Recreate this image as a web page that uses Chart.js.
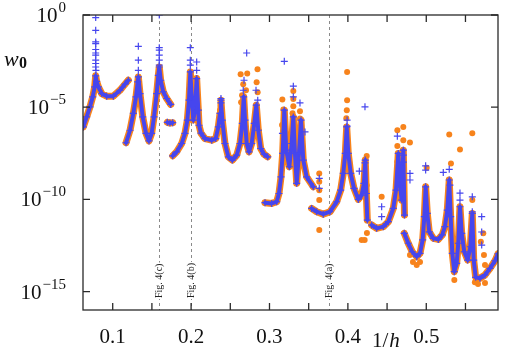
<!DOCTYPE html>
<html lang="en">
<head>
  <meta charset="UTF-8" />
  <title>w0 vs 1/h</title>
  <script src="https://cdn.jsdelivr.net/npm/chart.js@4.4.0/dist/chart.umd.min.js"></script>
  <style>
    body { margin: 0; background: #fff; }
    #wrap { width: 505px; height: 355px; }
  </style>
</head>
<body>
  <div id="wrap"><canvas id="chart" width="505" height="355"></canvas></div>

  <script>
    // each point: [1/h, log10 w0]
    const segA = [[0.0625,-6.07],[0.0668,-5.53],[0.0710,-4.98],[0.0745,-4.44],[0.0770,-3.90],[0.0783,-3.30],[0.0795,-3.60],[0.0817,-3.90],[0.0860,-4.26],[0.0923,-4.40],[0.1008,-4.40],[0.1093,-4.08],[0.1157,-3.75],[0.1199,-3.54]];
    const segB = [[0.1170,-6.93],[0.1221,-6.25],[0.1263,-5.34],[0.1297,-4.44],[0.1319,-3.63],[0.1327,-3.36],[0.1348,-4.26],[0.1383,-5.53],[0.1425,-6.42],[0.1463,-6.83],[0.1497,-6.42],[0.1527,-5.53],[0.1561,-4.26],[0.1582,-3.27],[0.1594,-2.82],[0.1612,-3.54],[0.1645,-4.17],[0.1689,-4.53],[0.1740,-4.85]];
    const segC = [[0.1697,-5.82],[0.1730,-5.86],[0.1765,-5.84]];
    const segD = [[0.1765,-7.64],[0.1816,-7.42],[0.1880,-6.97],[0.1922,-6.42],[0.1952,-5.70],[0.1973,-4.62],[0.1990,-3.09],[0.2008,-4.44],[0.2028,-5.70],[0.2050,-5.16],[0.2071,-3.45],[0.2092,-5.16],[0.2101,-5.98],[0.2126,-6.41],[0.2177,-6.70],[0.2263,-6.79],[0.2314,-6.70],[0.2347,-6.07],[0.2369,-5.34],[0.2381,-4.62],[0.2398,-5.70],[0.2432,-6.97],[0.2475,-7.69],[0.2526,-7.87],[0.2582,-7.60],[0.2624,-6.97],[0.2653,-5.88],[0.2671,-4.44],[0.2688,-5.70],[0.2709,-6.97],[0.2739,-7.42],[0.2773,-6.97],[0.2806,-5.88],[0.2832,-4.89],[0.2857,-6.25],[0.2888,-7.24],[0.2930,-7.55],[0.2977,-7.69]];
    const segE = [[0.2943,-10.18],[0.3028,-10.22],[0.3092,-10.13],[0.3121,-9.68],[0.3147,-8.78],[0.3168,-7.51],[0.3189,-5.16],[0.3214,-7.33],[0.3253,-8.23],[0.3283,-6.97],[0.3304,-5.53],[0.3325,-7.51],[0.3347,-9.13],[0.3376,-7.51],[0.3402,-5.70],[0.3431,-7.87],[0.3474,-8.78],[0.3559,-9.32]];
    const segF = [[0.3538,-10.49],[0.3602,-10.67],[0.3686,-10.80],[0.3772,-10.67],[0.3857,-10.13],[0.3908,-9.50],[0.3941,-8.59],[0.3967,-7.51],[0.3985,-6.07],[0.4005,-7.51],[0.4036,-8.59],[0.4078,-9.40],[0.4133,-10.00],[0.4176,-9.77],[0.4205,-9.13],[0.4222,-7.87],[0.4235,-9.68],[0.4248,-11.12]];
    const segG = [[0.4304,-11.39],[0.4367,-11.57],[0.4452,-11.48],[0.4516,-11.21],[0.4579,-10.49],[0.4614,-9.50],[0.4643,-7.51],[0.4665,-9.23],[0.4686,-10.04],[0.4707,-7.33],[0.4722,-10.85]];
    const segH = [[0.4719,-11.84],[0.4770,-12.38],[0.4821,-12.84],[0.4878,-13.11],[0.4920,-12.93],[0.4954,-12.20],[0.4975,-10.94],[0.4992,-9.32],[0.5013,-10.76],[0.5038,-11.76],[0.5089,-12.11],[0.5153,-12.17],[0.5204,-11.93],[0.5238,-11.48],[0.5268,-10.58],[0.5293,-8.95],[0.5311,-10.94],[0.5332,-12.93],[0.5357,-13.92],[0.5388,-13.47],[0.5408,-12.38],[0.5430,-10.40],[0.5452,-11.84],[0.5485,-12.84],[0.5528,-13.29],[0.5562,-12.57],[0.5587,-10.76],[0.5605,-13.29],[0.5630,-14.23],[0.5685,-14.28],[0.5749,-14.10],[0.5813,-13.74],[0.5877,-13.33],[0.5915,-12.95]];
    const segments = [segA, segB, segC, segD, segE, segF, segG, segH];

    // loose points above the peaks
    const blueExtra = [
      [0.0783,-0.14],[0.0783,-0.83],[0.0783,-1.46],[0.0783,-1.55],[0.0783,-1.87],[0.0783,-2.06],[0.0783,-2.18],[0.0783,-2.45],[0.0783,-2.63],[0.0783,-2.82],[0.0786,-3.00],
      [0.1327,-1.70],[0.1327,-2.45],[0.1327,-3.00],
      [0.1594,0.00],[0.1594,-1.77],[0.1594,-1.91],[0.1594,-2.18],[0.1594,-2.45],[0.1594,-2.72],
      [0.1990,-1.77],[0.1990,-2.45],[0.1990,-2.72],
      [0.2071,-2.55],[0.2071,-3.00],
      [0.2381,-4.53],[0.2381,-4.77],
      [0.2709,-2.06],[0.2665,-4.08],[0.2675,-3.54],
      [0.2850,-4.62],[0.2828,-4.08],
      [0.3189,-2.51],[0.3165,-6.42],[0.3304,-4.44],[0.3304,-3.86],[0.3389,-4.77],[0.3453,-6.34],
      [0.3635,-8.86],[0.3635,-9.40],
      [0.3990,-5.70],[0.3990,-6.03],[0.4218,-4.98],[0.4218,-8.02],[0.4146,-8.47],
      [0.4431,-10.40],[0.4431,-10.94],
      [0.4631,-6.57],[0.4707,-7.60],[0.4707,-7.98],[0.4792,-8.59],[0.4792,-8.95],
      [0.4992,-8.18],[0.4992,-8.41],
      [0.5217,-8.54],[0.5293,-8.37],[0.5302,-9.23],[0.5430,-9.66],[0.5430,-10.04],
      [0.5587,-9.86],[0.5587,-10.67],[0.5707,-10.94],[0.5707,-11.77],[0.5707,-12.48]
    ];
    const orangeExtra = [
      [0.1990,-3.38],[0.1990,-3.70],[0.1977,-4.08],[0.2071,-3.70],[0.2071,-3.97],[0.2071,-4.35],
      [0.2381,-4.89],[0.2369,-5.16],
      [0.2665,-3.75],[0.2716,-3.17],[0.2632,-3.21],[0.2650,-4.35],[0.2638,-4.73],[0.2700,-4.08],
      [0.2847,-2.94],[0.2836,-3.65],[0.2849,-4.19],
      [0.3164,-4.58],[0.3177,-5.12],[0.3160,-5.97],[0.3179,-6.79],
      [0.3304,-4.12],[0.3304,-4.55],[0.3304,-4.95],[0.3294,-5.33],
      [0.3389,-5.22],[0.3389,-5.61],[0.3402,-6.14],
      [0.3635,-8.59],[0.3635,-9.05],[0.3635,-9.50],[0.3635,-10.04],[0.3635,-11.66],
      [0.3990,-3.09],[0.3990,-4.62],[0.3986,-5.16],[0.3980,-5.60],
      [0.4240,-7.65],[0.4240,-9.23],[0.4214,-12.21],[0.4243,-11.83],[0.4176,-12.21],
      [0.4431,-9.86],
      [0.4631,-6.25],[0.4631,-7.10],[0.4631,-7.96],[0.4707,-6.07],[0.4707,-6.79],[0.4707,-7.55],[0.4792,-6.91],
      [0.4792,-13.02],[0.4830,-13.40],[0.4878,-13.56],[0.4920,-13.40],
      [0.5005,-8.29],[0.4984,-10.04],
      [0.5293,-6.48],[0.5315,-8.05],[0.5290,-9.50],
      [0.5358,-14.37],[0.5430,-7.29],[0.5430,-10.58],[0.5430,-11.01],
      [0.5587,-6.42],[0.5587,-10.04],[0.5587,-11.66],
      [0.5696,-12.30],[0.5727,-11.84],[0.5736,-13.02],[0.5749,-13.56],[0.5660,-14.59],[0.5749,-14.53],[0.5620,-14.50]
    ];

    const xTicks = [0.1, 0.15, 0.2, 0.25, 0.3, 0.35, 0.4, 0.45, 0.5, 0.55];
    const xLabels = [0.1, 0.2, 0.3, 0.4, 0.5];
    const yTicks = [0, -5, -10, -15];
    const figX = [0.1594, 0.2, 0.3763];
    const figLabels = ['Fig. 4(c)', 'Fig. 4(b)', 'Fig. 4(a)'];

    const ORANGE = '#f7831c';
    const BLUE = '#4646ee';

    const toPts = arr => arr.map(([x, e]) => ({ x: x, y: Math.pow(10, e) }));
    const bandPts = [];
    segments.forEach((s, i) => {
      if (i) bandPts.push({ x: s[0][0], y: null });
      bandPts.push(...toPts(s));
    });

    const overlay = {
      id: 'overlay',
      beforeDatasetsDraw(chart) {
        const ctx = chart.ctx, a = chart.chartArea, xs = chart.scales.x;
        ctx.save();
        // dashed reference lines
        ctx.strokeStyle = '#8a8a8a';
        ctx.lineWidth = 1;
        ctx.setLineDash([3, 3]);
        figX.forEach(v => {
          const px = Math.round(xs.getPixelForValue(v)) + 0.5;
          ctx.beginPath();
          ctx.moveTo(px, a.top);
          ctx.lineTo(px, a.bottom);
          ctx.stroke();
        });
        ctx.setLineDash([]);
        ctx.font = '10px "Liberation Serif"';
        ctx.textAlign = 'left';
        ctx.textBaseline = 'middle';
        figX.forEach((v, i) => {
          const px = xs.getPixelForValue(v);
          ctx.save();
          ctx.translate(px, 298);
          ctx.rotate(-Math.PI / 2);
          const w = ctx.measureText(figLabels[i]).width;
          ctx.fillStyle = '#fff';
          ctx.fillRect(-1, -5, w + 2, 10);
          ctx.fillStyle = '#222';
          ctx.fillText(figLabels[i], 0, 0.5);
          ctx.restore();
        });
        ctx.restore();
      },
      afterDatasetsDraw(chart) {
        const ctx = chart.ctx, a = chart.chartArea;
        const xs = chart.scales.x, ys = chart.scales.y;
        ctx.save();
        // frame + inward ticks
        ctx.strokeStyle = '#2a2a2a';
        ctx.lineWidth = 1.3;
        ctx.strokeRect(a.left, a.top, a.right - a.left, a.bottom - a.top);
        ctx.beginPath();
        xTicks.forEach(v => {
          const px = xs.getPixelForValue(v);
          ctx.moveTo(px, a.bottom); ctx.lineTo(px, a.bottom - 7);
          ctx.moveTo(px, a.top); ctx.lineTo(px, a.top + 7);
        });
        yTicks.forEach(e => {
          const py = ys.getPixelForValue(Math.pow(10, e));
          ctx.moveTo(a.left, py); ctx.lineTo(a.left + 7, py);
          ctx.moveTo(a.right, py); ctx.lineTo(a.right - 7, py);
        });
        ctx.stroke();

        // tick labels
        ctx.fillStyle = '#111';
        ctx.textBaseline = 'alphabetic';
        ctx.font = '21px "Liberation Serif"';
        ctx.textAlign = 'center';
        xLabels.forEach(v => {
          ctx.fillText(String(v), xs.getPixelForValue(v), 343);
        });
        ctx.textAlign = 'right';
        yTicks.forEach(e => {
          const py = ys.getPixelForValue(Math.pow(10, e));
          const sup = e === 0 ? '0' : '\u2212' + (-e);
          ctx.font = '15px "Liberation Serif"';
          const sw = ctx.measureText(sup).width;
          ctx.fillText(sup, 66, py - 3);
          ctx.font = '21px "Liberation Serif"';
          ctx.fillText('10', 66 - sw - 1, py + 7);
        });

        // axis titles
        ctx.textAlign = 'left';
        ctx.font = 'italic 22px "Liberation Serif"';
        ctx.fillText('w', 4, 66);
        ctx.font = 'bold 16px "Liberation Serif"';
        ctx.fillText('0', 19, 68);
        ctx.font = '21px "Liberation Serif"';
        ctx.fillText('1/', 372, 347);
        const w1 = ctx.measureText('1/').width;
        ctx.font = 'italic 21px "Liberation Serif"';
        ctx.fillText('h', 372 + w1 + 1, 347);
        ctx.restore();
      }
    };

    new Chart(document.getElementById('chart'), {
      type: 'scatter',
      data: {
        datasets: [
          {
            data: toPts(blueExtra),
            pointStyle: 'cross',
            pointRadius: 3.5,
            pointBorderWidth: 1.2,
            borderColor: BLUE,
            backgroundColor: BLUE,
            showLine: false
          },
          {
            data: bandPts,
            showLine: true,
            spanGaps: false,
            borderColor: BLUE,
            borderWidth: 4,
            borderJoinStyle: 'round',
            borderCapStyle: 'round',
            pointStyle: 'cross',
            pointRadius: 3.5,
            pointBorderWidth: 1.2,
            pointBorderColor: BLUE,
            backgroundColor: BLUE
          },
          {
            data: toPts(orangeExtra),
            pointStyle: 'circle',
            pointRadius: 3,
            pointBorderWidth: 0,
            backgroundColor: ORANGE,
            borderColor: ORANGE,
            showLine: false
          },
          {
            data: bandPts,
            showLine: true,
            spanGaps: false,
            borderColor: ORANGE,
            borderWidth: 7,
            borderJoinStyle: 'round',
            borderCapStyle: 'round',
            pointStyle: 'circle',
            pointRadius: 3,
            pointBorderWidth: 0,
            backgroundColor: ORANGE
          }
        ]
      },
      options: {
        responsive: false,
        animation: false,
        devicePixelRatio: 1,
        layout: { padding: { left: 83, right: 7, top: 15, bottom: 45 } },
        plugins: { legend: { display: false }, tooltip: { enabled: false } },
        scales: {
          x: { type: 'linear', min: 0.0621, max: 0.5915, display: false },
          y: { type: 'logarithmic', min: 1e-16, max: 1, display: false }
        }
      },
      plugins: [overlay]
    });
  </script>
</body>
</html>
